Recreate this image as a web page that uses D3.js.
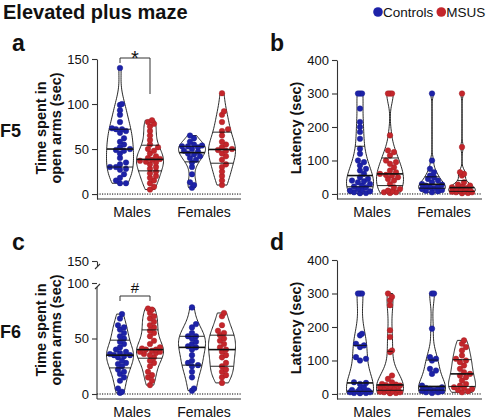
<!DOCTYPE html>
<html><head><meta charset="utf-8">
<script src="https://cdn.jsdelivr.net/npm/d3@7"></script>
<style>body{margin:0;background:#fff}text{font-family:"Liberation Sans",Arial,sans-serif}</style>
</head><body><svg id="c" width="488" height="419"></svg>
<script>
const groups = ["Males","Females"];
const series = ["Controls","MSUS"];
const seriesColors = ["#1d22a8","#c4262b"];
const timeTicks = [0,50,100,150];
const timeTicksBroken = [0,50,100];
const timeTicksUpper = [150];
const latencyTicks = [0,100,200,300,400];

// F5 – time spent in open arms (sec)
const f5TimeMalesControls = [140,100,99,93,88,80,73,72,72,70,68,62,58,55,52,50,49,48,45,40,35,33,30,30,28,27,22,18,15,12,12];
const f5TimeMalesMSUS = [82,80,78,75,70,65,60,55,52,50,48,45,42,40,39,38,37,36,35,33,30,28,25,23,20,18,15,12,8,5];
const f5TimeFemalesControls = [65,62,58,55,54,53,53,52,50,48,47,45,44,42,40,38,35,30,22,13,10,7];
const f5TimeFemalesMSUS = [112,92,88,80,72,70,65,58,55,52,50,49,48,45,42,38,33,30,25,20,15,10];
// F5 – latency (sec)
const f5LatMalesControls = [300,300,300,255,215,200,185,165,135,120,100,95,85,75,70,60,50,45,40,38,35,30,25,22,20,15,12,10,8,5,3,2];
const f5LatMalesMSUS = [300,300,300,175,130,125,115,100,95,90,80,70,65,60,57,55,50,45,40,30,20,15,10,8,5,5,3];
const f5LatFemalesControls = [300,100,75,65,55,50,45,40,35,30,28,25,22,20,18,15,12,10,8,5];
const f5LatFemalesMSUS = [300,140,65,60,55,35,28,25,22,20,18,15,12,10,8,7,5,5,3,2];
// F6 – time spent in open arms (sec)
const f6TimeMalesControls = [72,68,62,60,58,55,52,50,47,45,42,40,38,37,36,35,35,34,33,30,28,27,25,22,20,18,15,12,5,2,1];
const f6TimeMalesMSUS = [77,76,73,70,68,65,62,60,57,55,52,48,45,42,41,40,40,39,38,38,37,36,35,33,30,28,25,20,17,15,12,8];
const f6TimeFemalesControls = [78,63,60,55,52,52,50,47,45,43,42,40,35,30,28,26,25,20,15,5,3];
const f6TimeFemalesMSUS = [73,70,62,57,55,53,50,48,45,42,40,38,35,33,28,25,22,20,17,15,10];
// F6 – latency (sec)
const f6LatMalesControls = [300,300,300,180,175,150,145,140,110,105,100,35,33,30,20,15,12,10,8,8,5,5,3,3,2];
const f6LatMalesMSUS = [300,290,280,265,190,170,130,125,55,45,35,30,28,27,25,22,20,18,15,12,10,8,7,5,5,3,2];
const f6LatFemalesControls = [300,300,195,110,105,100,75,70,60,25,20,18,15,15,12,10,8,5,5,3];
const f6LatFemalesMSUS = [160,150,140,130,115,105,100,95,85,75,65,60,55,50,40,30,25,20,18,15,12,8,5];

const svg = d3.select("#c");
const FONT = "'Liberation Sans',Arial,sans-serif";

function kde(values){
  const n = values.length;
  const s = values.slice().sort(d3.ascending);
  const sd = d3.deviation(values);
  const iqr = d3.quantile(s,0.75)-d3.quantile(s,0.25);
  let h = 0.9*Math.min(sd, iqr/1.34 || sd)*Math.pow(n,-0.2);
  const mn = s[0], mx = s[n-1];
  const pts = [];
  const steps = 60;
  for(let i=0;i<=steps;i++){
    const v = mn + (mx-mn)*i/steps;
    let t = 0;
    for(const x of values){ const u=(v-x)/h; t += Math.exp(-0.5*u*u); }
    pts.push([v, t/(n*h)]);
  }
  return pts;
}

function styleAxis(a){
  a.selectAll("text").attr("font-size",13).attr("fill","#111").attr("font-family",FONT);
  a.selectAll("line,path").attr("stroke","#333").attr("stroke-width",1.1);
}

function drawPanel(cfg){
  const g = svg.append("g");
  const y = cfg.y;
  const xg = d3.scalePoint().domain(groups).range([cfg.axisX+37, cfg.axisX+109]);
  const xs = d3.scalePoint().domain(series).range([-14,16]);
  g.append("line").attr("x1",cfg.axisX).attr("x2",cfg.axisEnd)
    .attr("y1",y(0)).attr("y2",y(0)).attr("stroke","#000").attr("stroke-width",1).attr("stroke-dasharray","1.2,1.3");
  cfg.data.forEach((row,gi)=>{
    row.forEach((vals,si)=>{
      const cx = xg(groups[gi]) + xs(series[si]);
      const dens = kde(vals);
      const maxd = d3.max(dens,d=>d[1]);
      const wMax = 13.5;
      const w = v => {
        for(let i=1;i<dens.length;i++){ if(v<=dens[i][0]){ const t=(v-dens[i-1][0])/((dens[i][0]-dens[i-1][0])||1); return (dens[i-1][1]+t*(dens[i][1]-dens[i-1][1]))/maxd*wMax; } }
        return dens[dens.length-1][1]/maxd*wMax;
      };
      const area = d3.area().x0(d=>cx-d[1]/maxd*wMax).x1(d=>cx+d[1]/maxd*wMax).y(d=>y(d[0])).curve(d3.curveBasis);
      g.append("path").datum(dens).attr("d",area).attr("fill","#fff").attr("stroke","#111").attr("stroke-width",0.9);
      const r = 2.8;
      const sorted = vals.slice().sort(d3.ascending);
      const placed = [];
      sorted.forEach(v=>{
        const py = y(v);
        const lim = Math.max(w(v)-1.5, 3);
        const cands = [0];
        for(let k=1;k<=12;k++){ cands.push(k*2, -k*2); }
        let best=0, bestScore=-1;
        for(const dx of cands){
          if(Math.abs(dx)>lim) continue;
          let md = Infinity;
          for(const p of placed){ md = Math.min(md, Math.hypot(p[0]-(cx+dx), p[1]-py)); }
          if(md >= 2*r*0.8){ best=dx; bestScore=md; break; }
          if(md>bestScore){ bestScore=md; best=dx; }
        }
        placed.push([cx+best, py]);
      });
      g.selectAll(null).data(placed).enter().append("circle")
        .attr("cx",d=>d[0]).attr("cy",d=>d[1]).attr("r",r)
        .attr("fill",seriesColors[si]).attr("stroke",d3.color(seriesColors[si]).darker(0.6)).attr("stroke-width",0.4);
      [0.25,0.5,0.75].forEach(q=>{
        const v = d3.quantile(sorted,q);
        const hw = w(v);
        g.append("line").attr("x1",cx-hw).attr("x2",cx+hw).attr("y1",y(v)).attr("y2",y(v))
          .attr("stroke","#111").attr("stroke-width", q===0.5?1.6:0.9);
      });
    });
  });
  const ax = g.append("g").attr("transform",`translate(${cfg.axisX},0)`)
    .call(d3.axisLeft(y).tickValues(cfg.ticks).tickFormat(d3.format("d")).tickSize(5).tickSizeOuter(0));
  styleAxis(ax);
  if(cfg.yUpper){
    ax.select(".domain").remove();
    g.append("line").attr("x1",cfg.axisX).attr("x2",cfg.axisX).attr("y1",cfg.y.range()[0]).attr("y2",cfg.y.range()[1]+4).attr("stroke","#333").attr("stroke-width",1.1);
    const au = g.append("g").attr("transform",`translate(${cfg.axisX},0)`)
      .call(d3.axisLeft(cfg.yUpper).tickValues(timeTicksUpper).tickFormat(d3.format("d")).tickSize(5).tickSizeOuter(0));
    styleAxis(au);
    const yb1 = cfg.yUpper.range()[0], yb2 = cfg.y.range()[1]+4;
    g.append("line").attr("x1",cfg.axisX-2).attr("x2",cfg.axisX+3).attr("y1",yb1+3).attr("y2",yb1-2).attr("stroke","#333").attr("stroke-width",1.1);
    g.append("line").attr("x1",cfg.axisX-2).attr("x2",cfg.axisX+3).attr("y1",yb2+2).attr("y2",yb2-3).attr("stroke","#333").attr("stroke-width",1.1);
  }
  g.append("line").attr("x1",cfg.axisX).attr("x2",cfg.axisEnd).attr("y1",cfg.y.range()[0]).attr("y2",cfg.y.range()[0]).attr("stroke","#333").attr("stroke-width",1.1);
  groups.forEach(gr=>{
    g.append("text").attr("x",xg(gr)-2).attr("y",cfg.y.range()[0]+18).attr("text-anchor","middle")
      .attr("font-size",14).attr("fill","#111").text(gr);
  });
  const t = g.append("text").attr("transform",`translate(${cfg.titleX},${cfg.titleY}) rotate(-90)`)
    .attr("text-anchor","middle").attr("font-weight","bold").attr("font-size",14.5).attr("fill","#111");
  cfg.title.forEach((line,i)=>t.append("tspan").attr("x",0).attr("dy",i===0?0:15).text(line));
  g.append("text").attr("x",cfg.letterX).attr("y",cfg.letterY).attr("font-weight","bold").attr("font-size",23).attr("fill","#111").text(cfg.letter);
  return {g, xg, xs};
}

const yA = d3.scaleLinear().domain([-5.5,150]).range([199,59]);
const yB = d3.scaleLinear().domain([-15,400]).range([199,60]);
const yC = d3.scaleLinear().domain([-4.5,100]).range([399,283]);
const yCu = d3.scaleLinear().domain([145,150]).range([266,261]);
const yD = d3.scaleLinear().domain([-15,400]).range([399,260]);

const pA = drawPanel({y:yA, axisX:97, axisEnd:241, ticks:timeTicks, letter:"a", letterX:12, letterY:51,
  title:["Time spent in","open arms (sec)"], titleX:46, titleY:128,
  data:[[f5TimeMalesControls,f5TimeMalesMSUS],[f5TimeFemalesControls,f5TimeFemalesMSUS]]});
drawPanel({y:yB, axisX:337, axisEnd:482, ticks:latencyTicks, letter:"b", letterX:270, letterY:51,
  title:["Latency (sec)"], titleX:301, titleY:128,
  data:[[f5LatMalesControls,f5LatMalesMSUS],[f5LatFemalesControls,f5LatFemalesMSUS]]});
const pC = drawPanel({y:yC, axisX:97, axisEnd:241, ticks:timeTicksBroken, yUpper:yCu, letter:"c", letterX:12, letterY:250,
  title:["Time spent in","open arms (sec)"], titleX:46, titleY:330,
  data:[[f6TimeMalesControls,f6TimeMalesMSUS],[f6TimeFemalesControls,f6TimeFemalesMSUS]]});
drawPanel({y:yD, axisX:337, axisEnd:482, ticks:latencyTicks, letter:"d", letterX:270, letterY:250,
  title:["Latency (sec)"], titleX:301, titleY:328,
  data:[[f6LatMalesControls,f6LatMalesMSUS],[f6LatFemalesControls,f6LatFemalesMSUS]]});

function bracket(p, yTop, yL, yR, label, labelY){
  const x1 = p.xg("Males")+p.xs("Controls"), x2 = p.xg("Males")+p.xs("MSUS");
  svg.append("path").attr("d",`M${x1},${yL}V${yTop}H${x2}V${yR}`).attr("fill","none").attr("stroke","#333").attr("stroke-width",1);
  svg.append("text").attr("x",(x1+x2)/2).attr("y",labelY).attr("text-anchor","middle").attr("font-size",label==="*"?20:15).attr("fill","#111").text(label);
}
bracket(pA, 58, 63, 94, "*", 65);
bracket(pC, 296, 301, 301, "#", 293);

svg.append("text").attr("x",3).attr("y",19).attr("font-weight","bold").attr("font-size",20).attr("fill","#111").text("Elevated plus maze");
svg.append("text").attr("x",0).attr("y",137).attr("font-weight","bold").attr("font-size",18).attr("fill","#111").text("F5");
svg.append("text").attr("x",0).attr("y",338).attr("font-weight","bold").attr("font-size",18).attr("fill","#111").text("F6");
const leg = svg.append("g");
let lx = 378;
series.forEach((s,i)=>{
  leg.append("circle").attr("cx",lx).attr("cy",12).attr("r",4.8).attr("fill",seriesColors[i]);
  const tx = leg.append("text").attr("x",lx+5).attr("y",17).attr("font-size",13.5).attr("fill","#111").text(s);
  lx += 5 + tx.node().getComputedTextLength() + 8;
});
</script></body></html>
